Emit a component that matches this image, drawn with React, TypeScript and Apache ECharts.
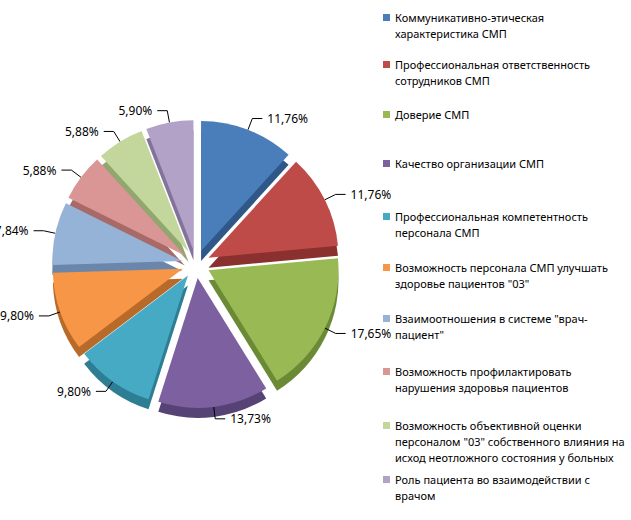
import { useEffect, useRef } from "react";
import * as echarts from "echarts";

const categories = [
  "Коммуникативно-этическая\nхарактеристика СМП",
  "Профессиональная ответственность\nсотрудников СМП",
  "Доверие СМП",
  "Качество организации СМП",
  "Профессиональная компетентность\nперсонала СМП",
  "Возможность персонала СМП улучшать\nздоровье пациентов \"03\"",
  "Взаимоотношения в системе \"врач-\nпациент\"",
  "Возможность профилактировать\nнарушения здоровья пациентов",
  "Возможность объективной оценки\nперсоналом \"03\" собственного влияния на\nисход неотложного состояния у больных",
  "Роль пациента во взаимодействии с\nврачом",
];
const values = [11.76, 11.76, 17.65, 13.73, 9.8, 9.8, 7.84, 5.88, 5.88, 5.9];
const colors = ["#4a7ebb", "#be4b48", "#98b954", "#7d60a0", "#46aac5", "#f79646", "#95b3d7", "#d99694", "#c3d69b", "#b3a2c7"];
const darkColors = ["#2f5788", "#8a302e", "#6b8a35", "#574275", "#2d7d93", "#b86a2a", "#6a86ab", "#a86a68", "#92a66f", "#83729a"];

const FONT = "'Noto Sans', 'Liberation Sans', sans-serif";

export default function App() {
  const ref = useRef<HTMLDivElement>(null);

  useEffect(() => {
    if (!ref.current) return;
    const chart = echarts.init(ref.current, null, { renderer: "svg" });
    const legendTops = [15, 62, 112, 161, 214, 265, 316, 369, 423, 477];
    const graphic: any[] = [];
    categories.forEach((c, i) => {
      graphic.push({
        type: "rect",
        left: 383,
        top: legendTops[i] - 1,
        shape: { width: 7, height: 7 },
        style: { fill: colors[i] },
      });
      graphic.push({
        type: "text",
        left: 395,
        top: legendTops[i] - 6,
        style: { text: c, fill: "#000", font: `11px ${FONT}`, lineHeight: 16 },
      });
    });
    const base = {
      type: "pie",
      radius: [0, 130],
      startAngle: 90,
      clockwise: true,
      selectedMode: "multiple",
      selectedOffset: 14,
      animation: false,
    };
    chart.setOption({
      animation: false,
      graphic,
      series: [
        {
          ...base,
          center: [196, 274],
          silent: true,
          z: 1,
          label: { show: false },
          labelLine: { show: false },
          data: values.map((v, i) => ({ value: v, name: "s" + i, selected: true, itemStyle: { color: darkColors[i] } })),
        },
        {
          ...base,
          center: [196, 264],
          z: 2,
          label: {
            show: true,
            position: "outside",
            fontFamily: FONT,
            fontSize: 12,
            color: "#000",
            overflow: "none",
            formatter: (p: any) => values[p.dataIndex].toFixed(2).replace(".", ",") + "%",
          },
          labelLine: { show: true, length: 12, length2: 10, lineStyle: { color: "#000", width: 1 } },
          data: values.map((v, i) => ({ value: v, name: categories[i], selected: true, itemStyle: { color: colors[i] } })),
        },
      ],
    });
    return () => chart.dispose();
  }, []);

  return <div ref={ref} style={{ position: "absolute", left: 0, top: 0, width: 631, height: 520, background: "#fff" }} />;
}
